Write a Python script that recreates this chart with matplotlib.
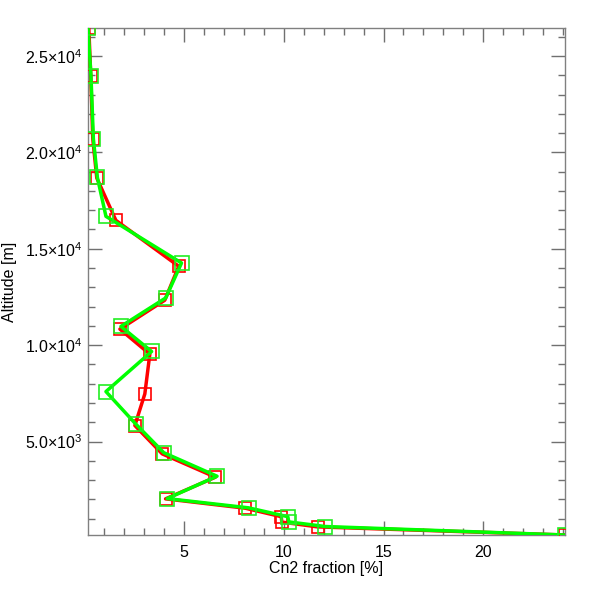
# -*- coding: utf-8 -*-

import numpy as np
import matplotlib
matplotlib.use("Agg")
import matplotlib.pyplot as plt
from matplotlib.ticker import FixedLocator, MultipleLocator

# data --------------------------------------------------------------------

alt_red = [26450, 23940, 20700, 18670, 16470, 14090, 12330, 10830, 9530,
           7470, 5830, 4360, 3150, 2025, 1540, 1100, 820, 570, 150]
cn2_red = [0.22, 0.32, 0.42, 0.62, 1.58, 4.73, 4.03, 1.78, 3.28,
           3.03, 2.53, 3.90, 6.57, 4.07, 8.07, 9.87, 9.90, 11.70, 24.10]

alt_green = [26450, 23940, 20700, 18700, 16680, 14260, 12450, 10970, 9670,
             7590, 5900, 4420, 3200, 2040, 1560, 1100, 830, 590, 150]
cn2_green = [0.18, 0.33, 0.45, 0.65, 1.08, 4.87, 4.08, 1.83, 3.37,
             1.08, 2.58, 3.98, 6.65, 4.15, 8.23, 10.20, 10.25, 12.08, 24.10]

yticks = [5000, 10000, 15000, 20000, 25000]
ytick_labels = ["5.0×10$^{3}$", "1.0×10$^{4}$", "1.5×10$^{4}$",
                "2.0×10$^{4}$", "2.5×10$^{4}$"]

rc = {
    "font.family": "Liberation Sans",
    "mathtext.fontset": "custom",
    "mathtext.rm": "Liberation Sans",
    "mathtext.it": "Liberation Sans",
    "font.size": 11.5,
}

with plt.rc_context(rc):
    fig = plt.figure(figsize=(5.91, 5.91), dpi=100)
    ax = fig.add_axes([88/591, 1 - 535/591, (565 - 88)/591, (535 - 28)/591])

    ax.plot(cn2_red, alt_red, color="#ff0000", lw=2.5, marker="s", ms=8,
            mfc="none", mec="#ff0000", mew=1.2, zorder=3)
    ax.plot(cn2_green, alt_green, color="#00ff00", lw=2.5, marker="s", ms=9.5,
            mfc="none", mec="#22ee22", mew=1.2, zorder=4)

    ax.set_xlim(min(cn2_green), max(cn2_red))
    ax.set_ylim(150, 26450)

    ax.xaxis.set_major_locator(FixedLocator([5, 10, 15, 20]))
    ax.xaxis.set_minor_locator(MultipleLocator(1))
    ax.yaxis.set_major_locator(FixedLocator(yticks))
    ax.yaxis.set_minor_locator(MultipleLocator(1000))
    ax.set_yticklabels(ytick_labels)

    for s in ax.spines.values():
        s.set_color("#808080")
        s.set_linewidth(1.0)
    ax.tick_params(which="both", direction="in", top=True, right=True,
                   color="#707070", width=1.0, labelsize=11.5)
    ax.tick_params(axis="x", pad=7)
    ax.tick_params(axis="y", pad=4)
    ax.tick_params(which="major", length=10)
    ax.tick_params(which="minor", length=5)

    ax.set_xlabel("Cn2 fraction [%]", fontsize=11.5, labelpad=1)
    ax.set_ylabel("Altitude [m]", fontsize=11.5)
    ax.yaxis.set_label_coords(-0.148, 0.5)

    fig.savefig("out.png", dpi=100, facecolor="white")
